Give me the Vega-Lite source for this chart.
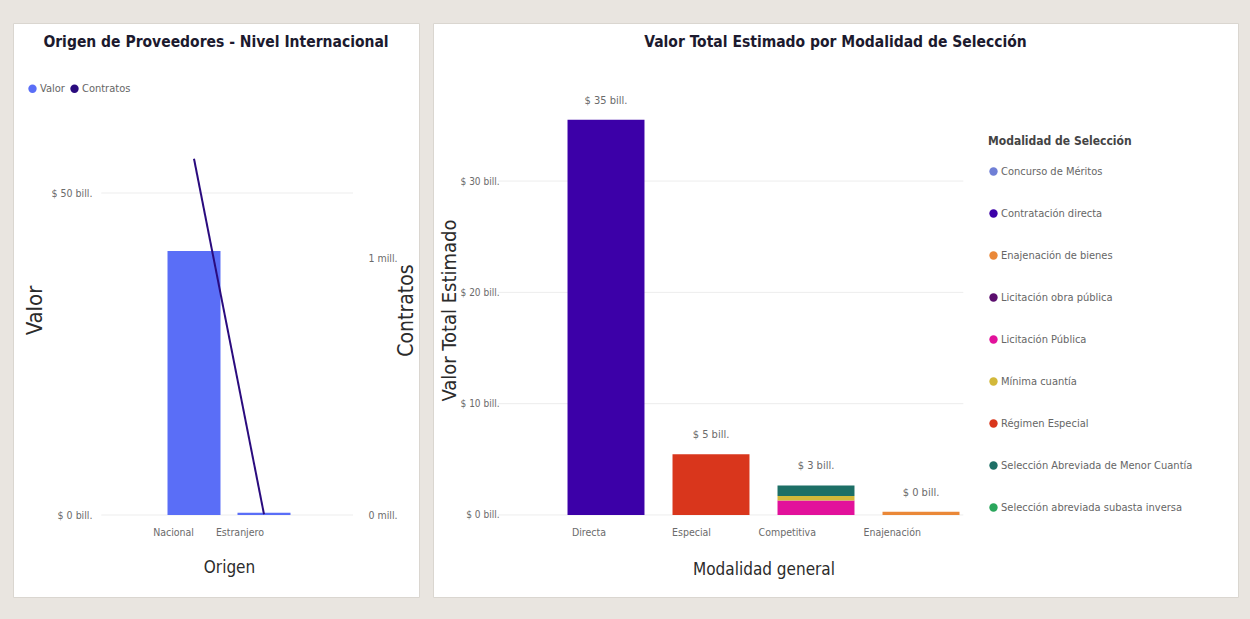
{
  "$schema": "https://vega.github.io/schema/vega-lite/v6.json",
  "background": "#E9E5E0",
  "padding": {"left": 12, "top": 22, "right": 15, "bottom": 23},
  "spacing": 12,
  "resolve": {"scale": {"color": "independent"}, "legend": {"color": "independent"}},
  "config": {
    "font": "Liberation Sans Narrow, DejaVu Sans Condensed, Liberation Sans, sans-serif",
    "view": {"fill": "white", "stroke": "#DAD6D0"},
    "axis": {"labelColor": "#6b6b6b", "labelFontSize": 10.5, "titleColor": "#2b2b2b", "titleFontWeight": "normal", "domain": false, "ticks": false, "grid": false},
    "legend": {"labelColor": "#666666", "labelFontSize": 11},
    "title": {"fontSize": 15.5, "fontWeight": "bold", "color": "#1c1a2e", "anchor": "middle", "frame": "group"}
  },
  "hconcat": [
    {
      "width": 406,
      "height": 574,
      "title": {"text": "Origen de Proveedores - Nivel Internacional", "offset": -27},
      "data": {"values": [
        {"origen": "Nacional", "valor": 41, "contratos": 1.39},
        {"origen": "Estranjero", "valor": 0.35, "contratos": 0.003}
      ]},
      "layer": [
        {
          "data": {"values": [{"v": 0}, {"v": 50}]},
          "mark": {"type": "rule", "color": "#EDEDED", "strokeWidth": 1},
          "encoding": {
            "x": {"datum": "Nacional", "type": "nominal", "bandPosition": -1.25, "scale": {"domain": ["Nacional", "Estranjero"], "range": [146, 286], "paddingInner": 0.243, "paddingOuter": 0.1215}},
            "x2": {"datum": "Estranjero", "bandPosition": 2.18},
            "y": {"field": "v", "type": "quantitative", "scale": {"domain": [-12.73, 76.4]}, "axis": null}
          }
        },
        {
          "mark": {"type": "bar"},
          "encoding": {
            "x": {"field": "origen", "type": "nominal", "sort": ["Nacional", "Estranjero"],
              "axis": {"orient": "bottom", "offset": -82, "labelAngle": 0, "labelPadding": 17, "title": "Origen", "titleFontSize": 17, "titlePadding": 22}},
            "y": {"field": "valor", "type": "quantitative", "scale": {"domain": [-12.73, 76.4]},
              "axis": {"orient": "left", "offset": -82, "values": [0, 50], "labelExpr": "'$ ' + datum.value + ' bill.'", "labelPadding": 3, "title": "Valor", "titleFontSize": 22, "titlePadding": 5}},
            "y2": {"datum": 0},
            "color": {"datum": "Valor", "type": "nominal", "scale": {"domain": ["Valor", "Contratos"], "range": ["#5A6EF7", "#2A0B7E"]},
              "legend": {"orient": "none", "legendX": 14, "legendY": 60, "direction": "horizontal", "title": null, "symbolType": "circle", "symbolSize": 70, "columnPadding": 4, "labelOffset": 2}}
          }
        },
        {
          "mark": {"type": "line", "color": "#2A0B7E", "strokeWidth": 2},
          "encoding": {
            "x": {"field": "origen", "type": "nominal", "sort": ["Nacional", "Estranjero"]},
            "y": {"field": "contratos", "type": "quantitative", "scale": {"domain": [-0.32, 1.92]},
              "axis": {"orient": "right", "offset": -54, "values": [0, 1], "labelExpr": "datum.value + ' mill.'", "labelPadding": 3, "title": "Contratos", "titleFontSize": 21, "titleAngle": 270, "titlePadding": 19}}
          }
        }
      ],
      "resolve": {"scale": {"y": "independent"}}
    },
    {
      "width": 805,
      "height": 574,
      "title": {"text": "Valor Total Estimado por Modalidad de Selección", "offset": -27},
      "data": {"values": [
        {"general": "Directa", "seleccion": "Contratación directa", "valor": 35.5},
        {"general": "Especial", "seleccion": "Régimen Especial", "valor": 5.45},
        {"general": "Competitiva", "seleccion": "Licitación Pública", "valor": 1.3},
        {"general": "Competitiva", "seleccion": "Mínima cuantía", "valor": 0.4},
        {"general": "Competitiva", "seleccion": "Selección Abreviada de Menor Cuantía", "valor": 0.95},
        {"general": "Enajenación", "seleccion": "Enajenación de bienes", "valor": 0.3}
      ]},
      "layer": [
        {
          "data": {"values": [{"v": 0}, {"v": 10}, {"v": 20}, {"v": 30}]},
          "mark": {"type": "rule", "color": "#EDEDED", "strokeWidth": 1},
          "encoding": {
            "x": {"datum": "Directa", "type": "nominal", "bandPosition": -0.9, "scale": {"domain": ["Directa", "Especial", "Competitiva", "Enajenación"], "range": [120.5, 540.5], "paddingInner": 0.267, "paddingOuter": 0.1335}},
            "x2": {"datum": "Enajenación", "bandPosition": 1.05},
            "y": {"field": "v", "type": "quantitative", "scale": {"domain": [-7.37, 44.2]}}
          }
        },
        {
          "mark": {"type": "bar"},
          "encoding": {
            "x": {"field": "general", "type": "nominal", "sort": ["Directa", "Especial", "Competitiva", "Enajenación"],
              "axis": {"orient": "bottom", "offset": -82, "labelAngle": 0, "labelPadding": 17, "title": "Modalidad general", "titleFontSize": 17, "titlePadding": 24}},
            "y": {"field": "valor", "type": "quantitative", "stack": "zero", "scale": {"domain": [-7.37, 44.2]},
              "axis": {"orient": "left", "offset": -69, "values": [0, 10, 20, 30], "labelExpr": "'$ ' + datum.value + ' bill.'", "labelPadding": 3, "labelFontSize": 10, "title": "Valor Total Estimado", "titleFontSize": 20, "titlePadding": 1}},
            "color": {"field": "seleccion", "type": "nominal",
              "scale": {"domain": ["Concurso de Méritos", "Contratación directa", "Enajenación de bienes", "Licitación obra pública", "Licitación Pública", "Mínima cuantía", "Régimen Especial", "Selección Abreviada de Menor Cuantía", "Selección abreviada subasta inversa"],
                "range": ["#6F7FD6", "#3C00A8", "#EA8838", "#5B0E6E", "#E2119B", "#D2B83A", "#D9361C", "#1D6F66", "#2AA65C"]},
              "legend": {"orient": "none", "legendX": 555, "legendY": 113, "title": "Modalidad de Selección", "titleFontSize": 12, "titleColor": "#444444", "titleFontWeight": "bold", "titlePadding": 18, "symbolType": "circle", "symbolSize": 70, "rowPadding": 30, "labelOffset": 2, "labelLimit": 300}},
            "order": {"field": "seleccion", "type": "nominal", "sort": "ascending"}
          }
        },
        {
          "data": {"values": [
            {"general": "Directa", "total": 35.5, "etiqueta": "$ 35 bill."},
            {"general": "Especial", "total": 5.45, "etiqueta": "$ 5 bill."},
            {"general": "Competitiva", "total": 2.65, "etiqueta": "$ 3 bill."},
            {"general": "Enajenación", "total": 0.3, "etiqueta": "$ 0 bill."}
          ]},
          "mark": {"type": "text", "baseline": "bottom", "dy": -14, "fontSize": 11, "color": "#6b6b6b"},
          "encoding": {
            "x": {"field": "general", "type": "nominal", "sort": ["Directa", "Especial", "Competitiva", "Enajenación"]},
            "y": {"field": "total", "type": "quantitative", "scale": {"domain": [-7.37, 44.2]}},
            "text": {"field": "etiqueta"}
          }
        }
      ]
    }
  ]
}
